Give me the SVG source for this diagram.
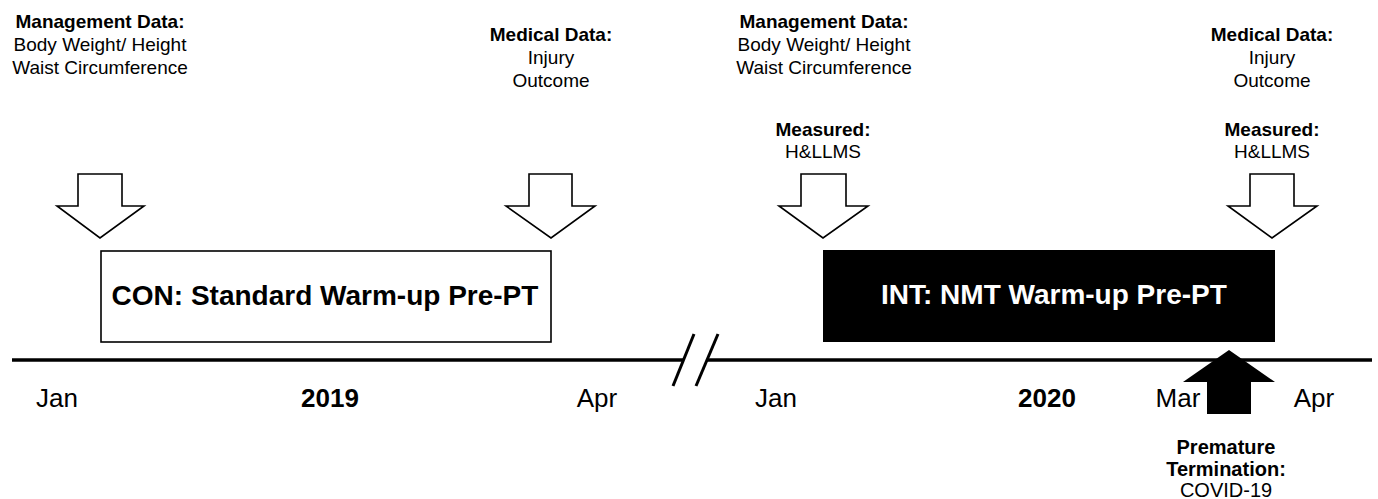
<svg xmlns="http://www.w3.org/2000/svg" width="1378" height="499" viewBox="0 0 1378 499">
<style>
text{font-family:"Liberation Sans",Arial,sans-serif;fill:#000}
.b{font-weight:bold}
.lbl{font-size:19px;text-anchor:middle}
.term{font-size:20px;text-anchor:middle}
.tl{font-size:26px;text-anchor:middle}
.big{font-size:28px;font-weight:bold}
.down{fill:#fff;stroke:#000;stroke-width:1.6;stroke-linejoin:miter}
</style>
<rect width="1378" height="499" fill="#fff"/>
<g id="label-mgmt1">
<text class="lbl b" x="100" y="28">Management Data:</text>
<text class="lbl" x="100" y="51">Body Weight/ Height</text>
<text class="lbl" x="100" y="74">Waist Circumference</text>
</g>
<g id="label-med1">
<text class="lbl b" x="551" y="41">Medical Data:</text>
<text class="lbl" x="551" y="64">Injury</text>
<text class="lbl" x="551" y="87">Outcome</text>
</g>
<g id="label-mgmt2">
<text class="lbl b" x="824" y="28">Management Data:</text>
<text class="lbl" x="824" y="51">Body Weight/ Height</text>
<text class="lbl" x="824" y="74">Waist Circumference</text>
<text class="lbl b" x="823" y="136">Measured:</text>
<text class="lbl" x="823" y="158">H&amp;LLMS</text>
</g>
<g id="label-med2">
<text class="lbl b" x="1272" y="41">Medical Data:</text>
<text class="lbl" x="1272" y="64">Injury</text>
<text class="lbl" x="1272" y="87">Outcome</text>
<text class="lbl b" x="1272" y="136">Measured:</text>
<text class="lbl" x="1272" y="158">H&amp;LLMS</text>
</g>
<g id="arrow-down1"><polygon class="down" points="78,174 122,174 122,206 144,206 100,238 57,206 78,206"/></g>
<g id="arrow-down2"><polygon class="down" points="529,174 572,174 572,206 595,206 551,238 506,206 529,206"/></g>
<g id="arrow-down3"><polygon class="down" points="801,174 846,174 846,206 868,206 823,238 779,206 801,206"/></g>
<g id="arrow-down4"><polygon class="down" points="1250,174 1294,174 1294,206 1317,206 1272,238 1228,206 1250,206"/></g>
<g id="box-con">
<rect x="101" y="251" width="450" height="91" fill="#fff" stroke="#000" stroke-width="1.6"/>
<text class="big" x="325" y="305" text-anchor="middle">CON: Standard Warm-up Pre-PT</text>
</g>
<g id="box-int">
<rect x="823" y="250" width="452" height="92" fill="#000"/>
<text class="big" x="881" y="304" style="fill:#fff">INT: NMT Warm-up Pre-PT</text>
</g>
<g id="connectors">
<line x1="12" y1="360" x2="684" y2="360" stroke="#000" stroke-width="3.5"/>
<line x1="707" y1="360" x2="1372" y2="360" stroke="#000" stroke-width="3.5"/>
<line x1="694" y1="334" x2="673" y2="386" stroke="#000" stroke-width="3"/>
<line x1="718" y1="334" x2="696" y2="386" stroke="#000" stroke-width="3"/>
</g>
<g id="timeline-labels">
<text class="tl" x="57" y="407">Jan</text>
<text class="tl b" x="330" y="407">2019</text>
<text class="tl" x="597" y="407">Apr</text>
<text class="tl" x="776" y="407">Jan</text>
<text class="tl b" x="1047" y="407">2020</text>
<text class="tl" x="1178" y="407">Mar</text>
<text class="tl" x="1314" y="407">Apr</text>
</g>
<g id="arrow-up">
<polygon points="1229,350 1275,382 1251,382 1251,414 1207,414 1207,382 1183,382" fill="#000"/>
</g>
<g id="label-termination">
<text class="term b" x="1226" y="454">Premature</text>
<text class="term b" x="1226" y="476">Termination:</text>
<text class="term" x="1226" y="497">COVID-19</text>
</g>
</svg>
